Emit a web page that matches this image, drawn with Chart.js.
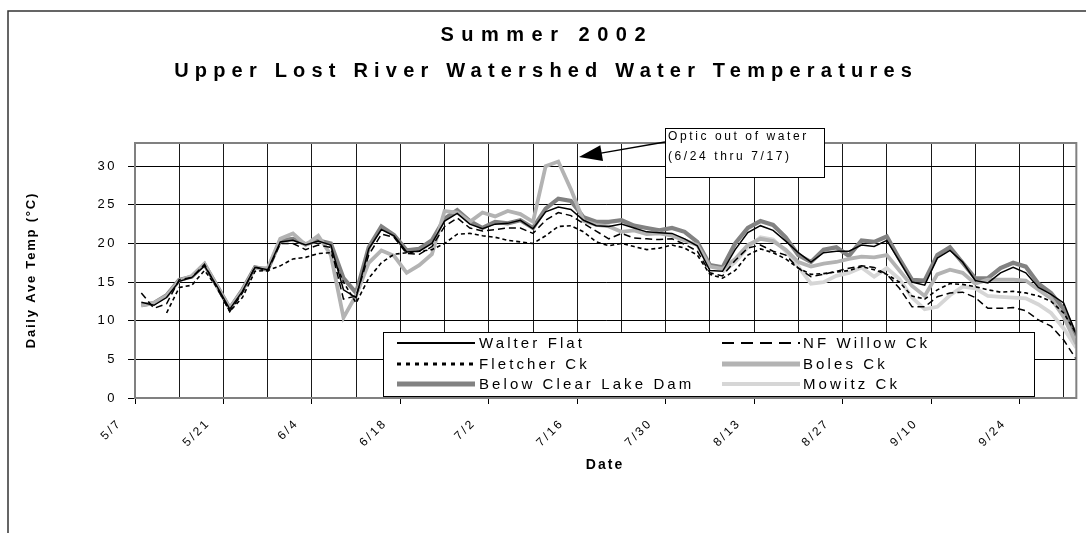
<!DOCTYPE html>
<html>
<head>
<meta charset="utf-8">
<script src="https://cdn.jsdelivr.net/npm/chart.js@4.4.1/dist/chart.umd.min.js"></script>
<style>
  html, body { margin: 0; padding: 0; background: #fff; }
</style>
</head>
<body>
<canvas id="tempChart" width="1086" height="533"></canvas>
<script>
// sample dates (every second day, summer 2002)
const dates = [
  '5/8','5/10','5/12','5/14','5/16','5/18','5/20','5/22','5/24','5/26',
  '5/28','5/30','6/1','6/3','6/5','6/7','6/9','6/11','6/13','6/15',
  '6/17','6/19','6/21','6/23','6/25','6/27','6/29','7/1','7/3','7/5',
  '7/7','7/9','7/11','7/13','7/15','7/17','7/19','7/21','7/23','7/25',
  '7/27','7/29','7/31','8/2','8/4','8/6','8/8','8/10','8/12','8/14',
  '8/16','8/18','8/20','8/22','8/24','8/26','8/28','8/30','9/1','9/3',
  '9/5','9/7','9/9','9/11','9/13','9/15','9/17','9/19','9/21','9/23',
  '9/25','9/27','9/29','10/1','10/3'
];
const xTickLabels = ['5/7','5/21','6/4','6/18','7/2','7/16','7/30','8/13','8/27','9/10','9/24'];

const walterFlat = [
  12.4, 12.0, 13.0, 15.1, 15.6, 17.1, 14.4, 11.5, 13.8, 16.9,
  16.6, 20.2, 20.4, 19.8, 20.3, 19.8, 14.0, 13.0, 19.3, 21.8,
  21.0, 18.9, 19.0, 20.0, 22.9, 23.9, 22.5, 21.9, 22.5, 22.6,
  23.0, 21.9, 24.1, 24.7, 24.4, 23.0, 22.3, 22.2, 22.5, 22.0,
  21.5, 21.4, 21.3, 20.6, 19.7, 16.5, 16.4, 19.2, 21.4, 22.3,
  21.7, 20.3, 18.8, 17.6, 18.8, 19.0, 19.0, 19.8, 19.6, 20.4,
  17.7, 15.0, 14.6, 18.1, 19.1, 17.6, 15.2, 14.9, 16.2, 16.9,
  16.2, 14.3, 13.4, 12.3, 8.2
];
const nfWillow = [
  13.6, 11.6, 12.2, 15.3, 15.6, 17.3, 14.2, 11.2, 13.6, 17.0,
  16.4, 20.0, 20.0, 19.2, 19.8, 19.5, 12.8, 13.2, 18.5, 21.2,
  20.8, 18.7, 18.6, 19.6, 22.2, 23.3, 22.0, 21.6, 21.8, 22.0,
  22.0, 21.3, 23.0, 24.0, 23.6, 22.6, 21.6, 20.6, 21.3, 20.7,
  20.6, 20.5, 20.6, 19.9, 19.0, 16.2, 15.8, 17.8, 19.4, 19.8,
  19.0, 18.5, 16.8, 15.7, 16.0, 16.4, 16.8, 17.1, 16.9, 16.0,
  14.2, 11.8, 11.8, 13.1, 13.6, 13.7, 13.0, 11.6, 11.6, 11.7,
  11.3, 10.1, 9.3, 7.5, 5.0
];
const fletcherCk = [
  null, null, 11.0, 14.3, 14.6, 16.5, 14.3, 11.2, 13.0, 16.4,
  16.5, 17.1, 18.0, 18.2, 18.7, 18.8, 15.0, 12.3, 15.5, 17.5,
  18.6, 18.8, 19.0, 19.2, 20.0, 21.2, 21.3, 21.0, 20.8, 20.4,
  20.2, 20.0, 21.0, 22.2, 22.3, 21.5, 20.2, 19.7, 20.0, 19.6,
  19.2, 19.4, 19.8, 19.4, 18.5, 16.0, 15.5, 16.5, 18.5, 19.3,
  18.8, 18.0, 16.8, 16.0, 16.1, 16.3, 16.5, 17.0, 16.6, 16.0,
  15.0, 13.2, 12.8, 14.0, 14.8, 14.7, 14.4, 14.0, 13.7, 13.8,
  13.6, 13.2, 12.5, 11.0, 8.3
];
const bolesCk = [
  12.0, 12.3, 13.2, 15.2, 15.8, 17.4, 14.4, 11.6, 13.9, 16.8,
  16.8, 20.6, 21.3, 19.8, 21.0, 18.5, 10.4, 13.3, 17.5, 19.1,
  18.4, 16.2, 17.2, 18.6, 24.2, 24.0, 22.8, 24.0, 23.5, 24.2,
  23.8, 22.8, 30.0, 30.6, 27.0, 22.9, 22.4, 22.2, 21.5, 21.7,
  21.2, 21.3, 21.0, 20.4, 19.8, 17.0, 16.7, 18.0, 19.8, 20.6,
  20.3, 19.2, 17.6, 17.0, 17.4, 17.6, 18.0, 18.3, 18.2, 18.5,
  16.5, 14.5, 13.2, 16.0, 16.6, 16.2, 14.8, 15.3, 15.3, 15.3,
  15.2, 14.0, 12.9, 10.5, 7.0
];
const clearLakeDam = [
  12.0, 12.3, 13.3, 15.3, 15.7, 17.3, 14.5, 11.6, 14.0, 16.9,
  16.6, 20.4, 20.6, 19.9, 20.4, 20.0, 15.5, 13.6, 19.5, 22.2,
  21.1, 19.1, 19.3, 20.4, 23.2, 24.3, 22.9, 22.0, 22.8, 22.6,
  23.0, 22.0, 24.5, 25.8, 25.5, 23.4, 22.8, 22.8, 23.0, 22.3,
  22.0, 21.7, 22.0, 21.5, 20.2, 17.2, 16.9, 20.0, 22.0, 22.9,
  22.4, 20.8, 18.5, 17.6, 19.2, 19.5, 18.4, 20.4, 20.2, 20.9,
  18.0, 15.3, 15.2, 18.5, 19.5, 17.5, 15.5, 15.5, 16.8, 17.5,
  17.0, 14.8, 13.6, 11.5, 8.0
];
// logger not deployed until early August
const mowitzCk = Array(46).fill(null).concat([
  16.3, 17.6, 19.5, 20.8, 20.5, 19.0, 17.0, 14.8, 15.0, 15.8,
  16.2, 16.9, 15.7, 16.8, 15.4, 13.0, 11.5, 11.8, 13.3, 14.4,
  14.2, 13.2, 13.1, 13.0, 12.9, 12.1, 11.0, 9.0, 6.5
]);

const FONT = '"Liberation Sans", Arial, sans-serif';
Chart.defaults.font.family = FONT;
Chart.defaults.color = '#000';

const start = new Date(2002, 4, 7);
function dayNum(s) {
  const [m, d] = s.split('/').map(Number);
  return Math.round((new Date(2002, m - 1, d) - start) / 86400000);
}
const xs = dates.map(dayNum);
const pts = vals => vals.map((v, i) => ({ x: xs[i], y: v }));

function spacedText(c, txt, x, y, spacing, align) {
  c.letterSpacing = spacing + 'px';
  const w = c.measureText(txt).width - spacing;
  let sx = x;
  if (align === 'center') sx = x - w / 2;
  c.textAlign = 'left';
  c.fillText(txt, sx, y);
  c.letterSpacing = '0px';
}

const decor = {
  id: 'decor',
  beforeDraw(chart) {
    const c = chart.ctx;
    c.save();
    c.fillStyle = '#fff';
    c.fillRect(0, 0, chart.width, chart.height);
    c.strokeStyle = '#333';
    c.lineWidth = 1.5;
    c.beginPath();
    c.moveTo(8, chart.height);
    c.lineTo(8, 11);
    c.lineTo(chart.width, 11);
    c.stroke();
    c.restore();
    c.letterSpacing = '2.5px';
  },
  afterDraw(chart) {
    const c = chart.ctx;
    const a = chart.chartArea;
    c.save();
    c.letterSpacing = '0px';
    // plot frame
    c.strokeStyle = '#808080';
    c.lineWidth = 2;
    c.strokeRect(a.left, a.top, a.right - a.left, a.bottom - a.top);

    // titles
    c.fillStyle = '#000';
    c.textBaseline = 'middle';
    c.font = 'bold 20px ' + FONT;
    spacedText(c, 'Summer 2002', 543, 35, 7.5, 'center');
    spacedText(c, 'Upper Lost River Watershed Water Temperatures', 543, 71, 6.2, 'center');

    c.font = 'bold 14px ' + FONT;
    spacedText(c, 'Date', 604, 465, 2, 'center');
    c.font = 'bold 13px ' + FONT;
    c.save();
    c.translate(31, 271);
    c.rotate(-Math.PI / 2);
    spacedText(c, 'Daily Ave Temp (°C)', 0, 0, 1.8, 'center');
    c.restore();

    // legend
    const lx = 383, ly = 332, lw = 651, lh = 64;
    c.fillStyle = '#fff';
    c.fillRect(lx, ly, lw, lh);
    c.strokeStyle = '#000';
    c.lineWidth = 1;
    c.strokeRect(lx + 0.5, ly + 0.5, lw, lh);
    const rows = [343, 364, 384];
    const cols = [[397, 475, 479], [722, 800, 803]];
    c.font = '15px ' + FONT;
    chart.data.datasets.forEach((ds, k) => {
      const col = cols[k % 2], y = rows[Math.floor(k / 2)];
      c.strokeStyle = ds.borderColor;
      c.lineWidth = ds.legendWidth;
      c.setLineDash(ds.legendDash || []);
      c.beginPath();
      c.moveTo(col[0], y);
      c.lineTo(col[1], y);
      c.stroke();
      c.setLineDash([]);
      c.fillStyle = '#000';
      spacedText(c, ds.label, col[2], y + 1, 3.1, 'left');
    });

    // annotation
    const bx = 665, by = 128, bw = 159, bh = 49;
    c.fillStyle = '#fff';
    c.fillRect(bx, by, bw, bh);
    c.strokeStyle = '#000';
    c.lineWidth = 1;
    c.strokeRect(bx + 0.5, by + 0.5, bw, bh);
    c.fillStyle = '#000';
    c.font = '12px ' + FONT;
    spacedText(c, 'Optic out of water', 668, 137, 2.6, 'left');
    spacedText(c, '(6/24 thru 7/17)', 668, 157, 2.6, 'left');
    // arrow
    const tx = 579, ty = 157, fx = 665, fy = 142;
    const ang = Math.atan2(ty - fy, tx - fx);
    c.lineWidth = 1.3;
    c.beginPath();
    c.moveTo(fx, fy);
    c.lineTo(tx - 18 * Math.cos(ang), ty - 18 * Math.sin(ang));
    c.stroke();
    c.beginPath();
    c.moveTo(tx, ty);
    c.lineTo(tx - 23 * Math.cos(ang) + 8 * Math.sin(ang), ty - 23 * Math.sin(ang) - 8 * Math.cos(ang));
    c.lineTo(tx - 23 * Math.cos(ang) - 8 * Math.sin(ang), ty - 23 * Math.sin(ang) + 8 * Math.cos(ang));
    c.closePath();
    c.fill();
    c.restore();
  }
};

const base = { pointRadius: 0, tension: 0, fill: false, spanGaps: false };

new Chart(document.getElementById('tempChart'), {
  type: 'line',
  data: {
    datasets: [
      { ...base, label: 'Walter Flat', data: pts(walterFlat), borderColor: '#000', borderWidth: 1.5, legendWidth: 2 },
      { ...base, label: 'NF Willow Ck', data: pts(nfWillow), borderColor: '#000', borderWidth: 1.5, borderDash: [7, 4], legendWidth: 2, legendDash: [12, 7] },
      { ...base, label: 'Fletcher Ck', data: pts(fletcherCk), borderColor: '#000', borderWidth: 1.6, borderDash: [4, 3], legendWidth: 3, legendDash: [4, 5] },
      { ...base, label: 'Boles Ck', data: pts(bolesCk), borderColor: '#b3b3b3', borderWidth: 3.8, legendWidth: 5 },
      { ...base, label: 'Below Clear Lake Dam', data: pts(clearLakeDam), borderColor: '#828282', borderWidth: 4.2, legendWidth: 5 },
      { ...base, label: 'Mowitz Ck', data: pts(mowitzCk), borderColor: '#d6d6d6', borderWidth: 3.8, legendWidth: 4 }
    ]
  },
  options: {
    responsive: false,
    animation: false,
    devicePixelRatio: 1,
    layout: { padding: { top: 143, right: 9, bottom: 0, left: 0 } },
    plugins: {
      legend: { display: false },
      title: { display: false },
      tooltip: { enabled: false }
    },
    scales: {
      x: {
        type: 'linear',
        min: 0,
        max: 149,
        afterFit(s) { s.height = 135; },
        border: { display: true, color: '#808080', width: 2 },
        grid: {
          color: '#1a1a1a',
          lineWidth: 1,
          tickLength: 6,
          tickColor: ctx => (ctx.tick && ctx.tick.value % 14 === 0 ? '#000' : 'rgba(0,0,0,0)')
        },
        ticks: {
          stepSize: 7,
          includeBounds: false,
          autoSkip: false,
          minRotation: 45,
          maxRotation: 45,
          padding: 12,
          labelOffset: -15,
          font: { size: 12 },
          callback: v => (v % 14 === 0 ? xTickLabels[v / 14] : '')
        }
      },
      y: {
        min: 0,
        max: 33,
        afterFit(s) { s.width = 135; },
        border: { display: true, color: '#808080', width: 2 },
        grid: { color: '#000', lineWidth: 1, tickLength: 7 },
        ticks: {
          stepSize: 5,
          includeBounds: false,
          padding: 11,
          font: { size: 13 }
        }
      }
    }
  },
  plugins: [decor]
});
</script>
</body>
</html>
